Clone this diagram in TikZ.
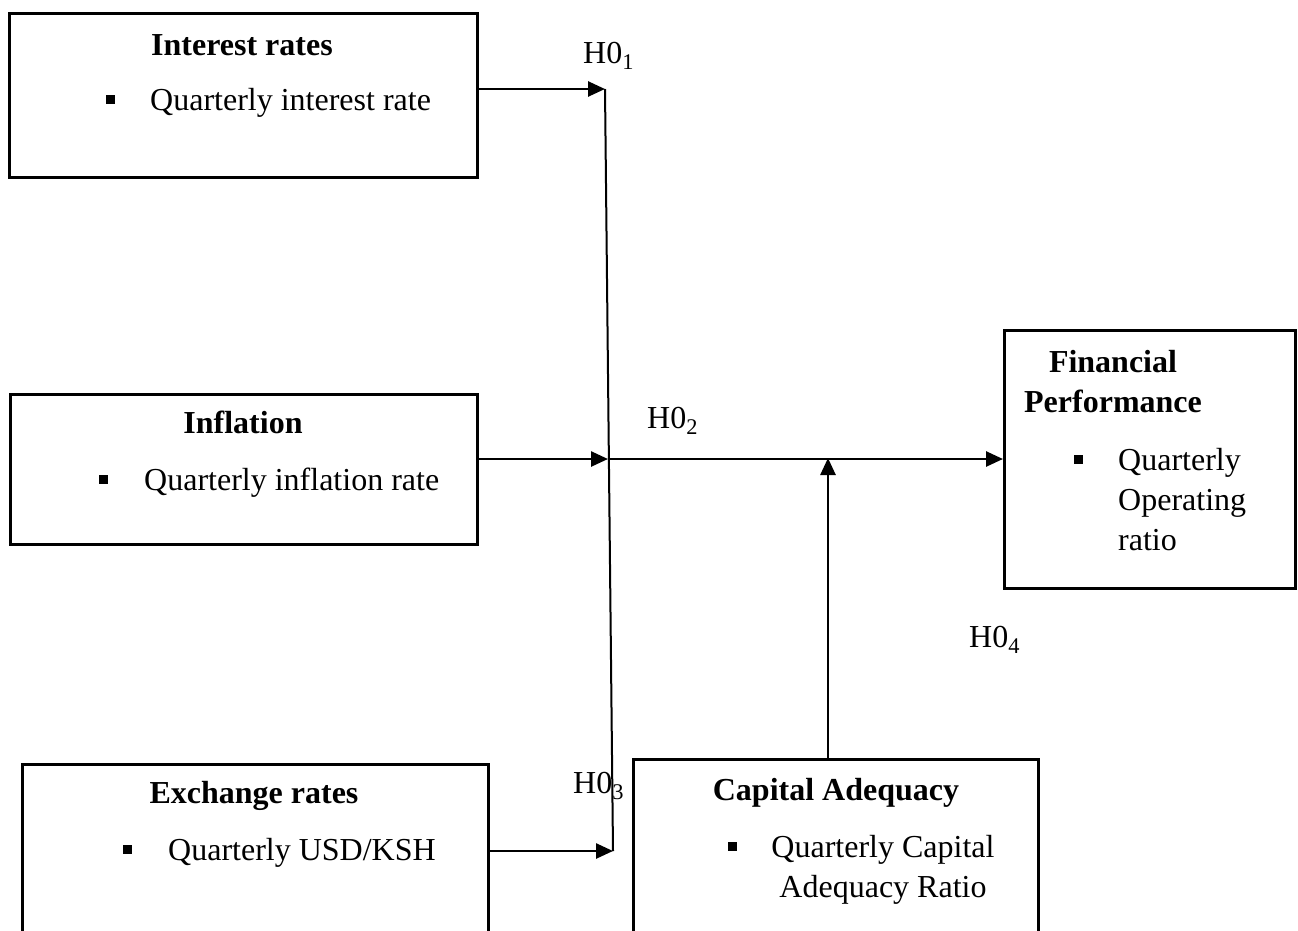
\documentclass[tikz,border=0pt]{standalone}
\usepackage{fontspec}
\setmainfont{Liberation Serif}
\usetikzlibrary{arrows.meta}

\begin{document}
\begin{tikzpicture}[%
      x=1pt, y=-1pt,
      every node/.style={font=\fontsize{32}{40}\selectfont, inner sep=0pt},
      box/.style={draw, line width=2.8pt, anchor=north west},
      ttl/.style={font=\fontsize{32}{40}\selectfont\bfseries, anchor=base, align=center},
      itm/.style={anchor=base west},
      bul/.style={fill, minimum size=9pt},
      hyp/.style={anchor=base west},
      arr/.style={-{Triangle[length=17pt,width=15pt]}, line width=2.6pt},
      ]
      \useasboundingbox (0,0) rectangle (1298,930);
      \clip (0,0) rectangle (1298,930);

      \node [box, minimum width=468pt, minimum height=164pt] (inter) at (8,12) {};
      \node [box, minimum width=467pt, minimum height=150pt] (infl) at (9,393) {};
      \node [box, minimum width=466pt, minimum height=200pt] (exch) at (21,763) {};
      \node [box, minimum width=405pt, minimum height=200pt] (cap) at (632,758) {};
      \node [box, minimum width=291pt, minimum height=258pt] (fin) at (1003,329) {};

      \node [ttl] (intert) at (242,55) {Interest rates};
      \node [bul] (interb) at (110,99) {};
      \node [itm] (interi) at (150,110) {Quarterly interest rate};

      \node [ttl] (inflt) at (243,433) {Inflation};
      \node [bul] (inflb) at (103,479) {};
      \node [itm] (infli) at (144,490) {Quarterly inflation rate};

      \node [ttl] (excht) at (254,803) {Exchange rates};
      \node [bul] (exchb) at (127,849) {};
      \node [itm] (exchi) at (168,860) {Quarterly USD/KSH};

      \node [ttl] (capt) at (836,800) {Capital Adequacy};
      \node [bul] (capb) at (732,846) {};
      \node [anchor=base, align=center] (capi) at (883,897) {Quarterly Capital\\Adequacy Ratio};

      \node [ttl] (fint) at (1113,412) {Financial\\Performance};
      \node [bul] (finb) at (1078,459) {};
      \node [itm, align=left] (fini) at (1118,550) {Quarterly\\Operating\\ratio};

      \coordinate (j1) at (605,89);
      \coordinate (j2) at (608,459);
      \coordinate (j3) at (613,851);
      \coordinate (m) at (828,458);

      \draw [line width=2pt] (j1) -- (j3);
      \draw [arr] (j1 -| inter.east) -- (j1);
      \draw [arr] (j2 -| infl.east) -- (j2);
      \draw [arr] (j3 -| exch.east) -- (j3);
      \draw [arr] (j2) -- (j2 -| fin.west);
      \draw [arr] (m |- cap.north) -- (m);

      \node [hyp] (h1) at (583,63) {H0\textsubscript{1}};
      \node [hyp] (h2) at (647,428) {H0\textsubscript{2}};
      \node [hyp] (h3) at (573,793) {H0\textsubscript{3}};
      \node [hyp] (h4) at (969,647) {H0\textsubscript{4}};
      \end{tikzpicture}
\end{document}
